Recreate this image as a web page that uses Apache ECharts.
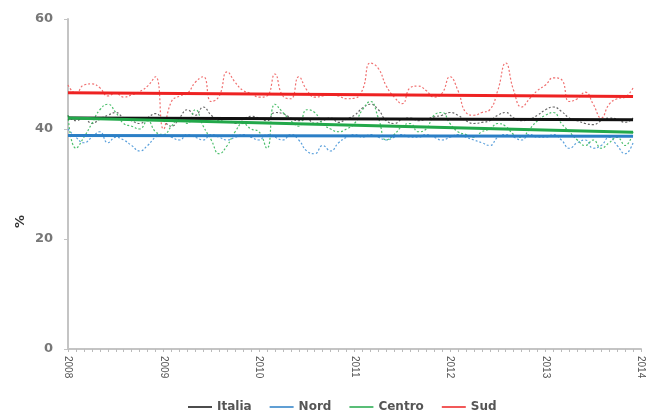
<!DOCTYPE html>
<html><head><meta charset="utf-8">
<script src="https://cdn.jsdelivr.net/npm/echarts@6/dist/echarts.min.js"></script>
<style>html,body{margin:0;padding:0;background:#fff}#c{width:654px;height:414px}</style>
</head><body><div id="c"></div>
<script>
const years = ['2008','2009','2010','2011','2012','2013','2014'];
const names = ['Italia','Nord','Centro','Sud'];
const colors = ['#111111','#2b7fc6','#22a84a','#ee2222'];
const dotColors = ['#666666','#5aa0dc','#4cbf6c','#f07070'];
// monthly values Jan 2008 - Dec 2013
const italia = [42.5,41.5,42,41,41.8,42.5,43,42,41.5,41,42,42.8,
 41.5,40.5,42,43.5,42.5,44,42.5,41.5,42,41,41.8,42.3,
 42,41.5,43,42.8,42,41.5,41.8,41,41.5,42,41.2,41.8,
 42.5,43.8,44.5,43.5,41.5,41,41.8,42,41.5,41.8,42.2,42.5,
 43,42.5,41.5,41,41.2,41.5,42.5,43,42,41.5,41.8,42.5,
 43.5,44,43.2,42,41.5,41,40.8,41.5,42,41.8,41.2,42];
const nord = [40,38.5,37.5,38.5,39.5,37.5,38.5,38,37,36,37,38.5,
 39,38.5,38,39,38.5,38,39,38.5,38,38.5,39,38.5,
 38,39,38.5,38,39,38,36,35.5,37,36,37.5,38.5,
 39,38.5,39,38.5,38,38.5,39,38.5,38.5,39,38.5,38,
 38.5,39,38.5,38,37.5,37,38.5,39,38.5,38,39,38.5,
 38.5,39,38,36.5,37.5,38,36.5,37,38.5,37,35.5,37.5];
const centro = [42.5,36.5,38.5,41,43.5,44.5,43,41,40.5,40,41.5,39.5,
 39,40.5,42,41,43.5,40.5,38,35.5,37,39.5,41,40,
 39.5,36.5,44.5,43,41.5,40.5,43.5,43,41,40,39.5,40,
 41,43.5,45,42,38,39,40.5,41,39.5,40,42.5,43,
 41,39.5,39,38.5,39.5,40,41,40.5,39,38.5,40,41.5,
 42.5,43,41,39.5,38,37,38,36.5,37.5,38.5,37,39.5];
const sud = [48,46.5,48,48.2,47.5,46,46.5,45.8,46.2,46.8,47.8,49.5,
 40,45,46,46.5,48.5,49.5,45,46,50.4,48.5,47,46.5,
 45.8,46,50,46,45.5,49.5,47.1,45.8,46,46.3,46,45.5,
 45.6,47.1,52,51,47.8,45.8,44.6,47.5,47.8,47,45.8,46.5,
 49.5,47,43,42.5,43,43.5,47,52,47,44,45.5,47,
 48,49.3,49,45,45.5,46.7,44.5,42,44.5,45.5,45.8,47.5];
// trend lines: value at first and last month
const trendStart = [42.0, 38.8, 42.0, 46.6];
const trendEnd   = [41.7, 38.7, 39.4, 45.9];
const monthly = [italia, nord, centro, sud];

const series = [];
monthly.forEach((arr, k) => {
  series.push({
    name: names[k] + ' mensile', type: 'line', showSymbol: false, smooth: true,
    data: arr.map((v, i) => [i, v]),
    lineStyle: {color: dotColors[k], width: 1.2, type: [2, 2]}, z: 2
  });
});
names.forEach((n, k) => {
  series.push({
    name: n, type: 'line', showSymbol: false,
    data: [[0, trendStart[k]], [monthly[k].length - 1, trendEnd[k]]],
    lineStyle: {color: colors[k], width: 3}, itemStyle: {color: colors[k]}, z: 5
  });
});

const chart = echarts.init(document.getElementById('c'));
chart.setOption({
  animation: false,
  grid: {left: 68, right: 13, top: 19, bottom: 65},
  legend: {
    data: names, bottom: 1, left: 188, padding: 0, icon: 'rect', itemWidth: 24, itemHeight: 1.5,
    itemGap: 18, textStyle: {color: '#555', fontSize: 12, fontWeight: 'bold', fontFamily: 'DejaVu Sans'}
  },
  graphic: [{
    type: 'text', left: 14, top: 215, rotation: Math.PI / 2,
    style: {text: '%', fill: '#333', font: 'bold 13px DejaVu Sans'}
  }],
  xAxis: {
    type: 'value', min: 0, max: 72, interval: 12,
    axisLine: {lineStyle: {color: '#c4c4c4', width: 2}},
    axisTick: {show: true, length: 3, lineStyle: {color: '#bbb'}},
    minorTick: {show: true, splitNumber: 12, length: 3, lineStyle: {color: '#bbb'}},
    splitLine: {show: false},
    axisLabel: {rotate: -90, fontSize: 10, color: '#555', margin: 7,
      formatter: v => years[Math.round(v / 12)] || ''}
  },
  yAxis: {
    type: 'value', min: 0, max: 60, interval: 20,
    axisLine: {show: true, lineStyle: {color: '#c4c4c4', width: 2}},
    axisTick: {show: true, length: 4, lineStyle: {color: '#c4c4c4'}},
    splitLine: {show: false},
    axisLabel: {color: '#777', fontSize: 13, fontWeight: 'bold', fontFamily: 'DejaVu Sans', margin: 15}
  },
  series: series
});
</script></body></html>
